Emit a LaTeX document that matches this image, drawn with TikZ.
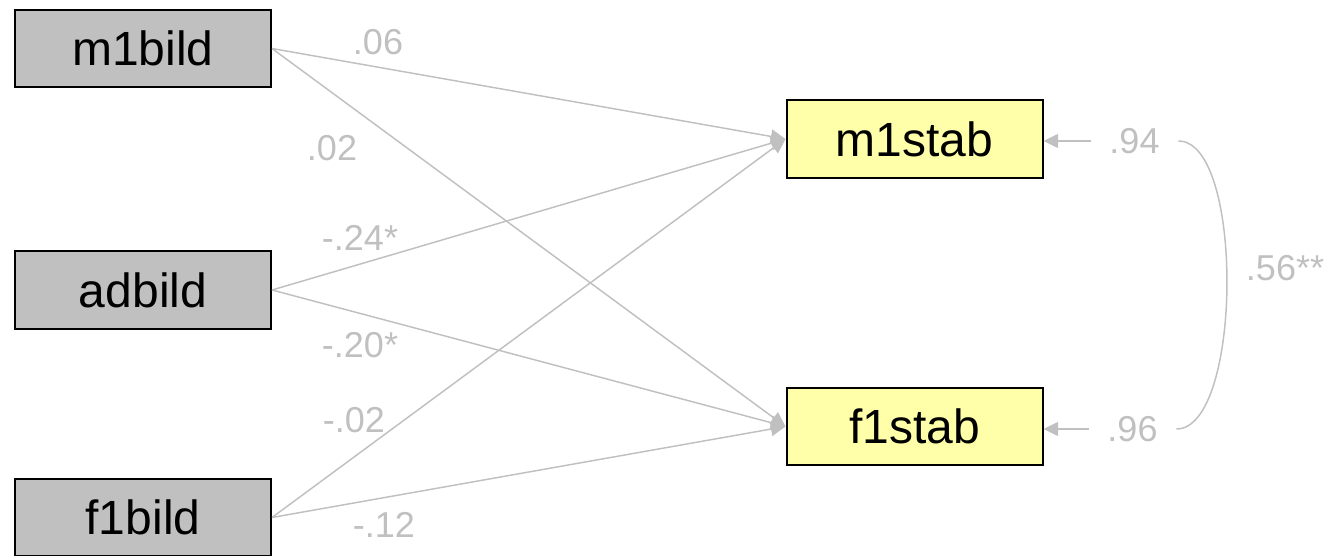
\documentclass[tikz,border=0pt]{standalone}
\usepackage{fontspec}
\setmainfont{Liberation Sans}
\usepackage{tikz}
\usetikzlibrary{arrows.meta}
\definecolor{pathgray}{RGB}{192,192,192}
\definecolor{boxgray}{RGB}{192,192,192}
\definecolor{boxyellow}{RGB}{255,255,170}
\tikzset{obsbox/.style={draw=black,line width=1.5pt,fill=#1,minimum width=192pt,minimum height=58pt,inner sep=0pt,font=\fontsize{36}{42}\selectfont},
    coef/.style={text=pathgray,inner sep=0.75pt,font=\fontsize{27}{32}\selectfont},
    path/.style={draw=pathgray,line width=1.1pt,-{Triangle[length=11pt,width=10.5pt]}}}

\begin{document}
\begin{tikzpicture}[x=0.75pt,y=0.75pt,yscale=-1,xscale=1]
\useasboundingbox (0,0) rectangle (1328,556);

%Shape: Rectangle [id:m1bild]
\node (m1bild) at (143,48.5) [obsbox=boxgray] {m1bild};
%Shape: Rectangle [id:adbild]
\node (adbild) at (143,290) [obsbox=boxgray] {adbild};
%Shape: Rectangle [id:f1bild]
\node (f1bild) at (143,517.5) [obsbox=boxgray] {f1bild};
%Shape: Rectangle [id:m1stab]
\node (m1stab) at (914.5,139) [obsbox=boxyellow] {m1stab};
%Shape: Rectangle [id:f1stab]
\node (f1stab) at (914.5,426.5) [obsbox=boxyellow] {f1stab};

%Straight Lines [id:paths]
\draw [path] (m1bild.east) -- (m1stab.west);
\draw [path] (m1bild.east) -- (f1stab.west);
\draw [path] (adbild.east) -- (m1stab.west);
\draw [path] (adbild.east) -- (f1stab.west);
\draw [path] (f1bild.east) -- (m1stab.west);
\draw [path] (f1bild.east) -- (f1stab.west);

% Text Node
\node (c1) at (378,42) [coef] {.06};
% Text Node
\node (c2) at (332,148) [coef] {.02};
% Text Node
\node (c3) at (360,238) [coef] {-.24*};
% Text Node
\node (c4) at (360,345) [coef] {-.20*};
% Text Node
\node (c5) at (354,420) [coef] {-.02};
% Text Node
\node (c6) at (384,525) [coef] {-.12};

% Residuals
\node (e1) at (1134.5,141) [coef,inner sep=14pt] {.94};
\node (e2) at (1132.5,429) [coef,inner sep=14pt] {.96};
\draw [path] (e1.west) -- (e1.west -| m1stab.east);
\draw [path] (e2.west) -- (e2.west -| f1stab.east);

%Curve Lines [id:cov]
\draw [draw=pathgray,line width=1.1pt] (e1.east) .. controls +(66,0) and +(66,0) .. (e2.east);
% Text Node
\node (cov) at (1285,268) [coef] {.56**};

\end{tikzpicture}
\end{document}
